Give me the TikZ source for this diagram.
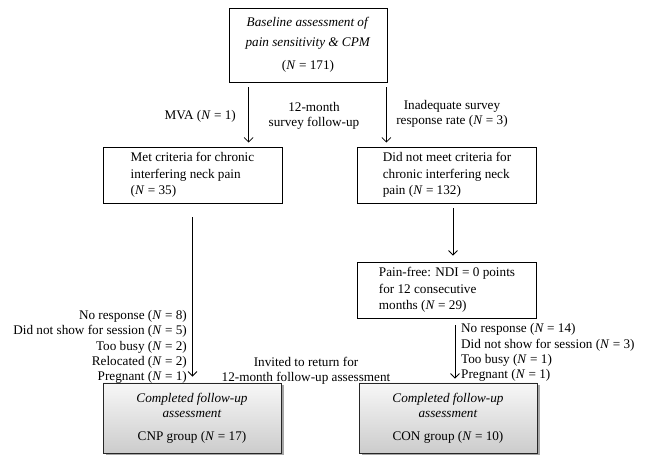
\documentclass[tikz,border=0pt]{standalone}
\usepackage{fontspec}
\setmainfont{Liberation Serif}
\usetikzlibrary{arrows.meta,shadows,calc}
\begin{document}
\begin{tikzpicture}[x=1pt,y=1pt,
  every node/.style={font=\fontsize{13.2}{15.3}\selectfont, inner sep=0pt},
  box/.style={draw, line width=0.8pt, minimum width=179pt, minimum height=56pt, align=left},
  topbox/.style={draw, line width=0.8pt, minimum width=158pt, minimum height=74pt, align=center},
  endbox/.style={draw=black!85, line width=0.8pt, minimum width=178pt, minimum height=70pt, align=center,
    top color=gray!6, bottom color=gray!40,
    drop shadow={shadow xshift=2.5pt, shadow yshift=-2.5pt, fill=gray!70, opacity=1}},
  arr/.style={line width=0.8pt, -{Straight Barb[length=4.5pt,width=9pt]}},
  lbl/.style={align=center}
]
\useasboundingbox (0,0) rectangle (646,463);
\fill[white] (0,0) rectangle (646,463);

\node[topbox] (top) at (308,418) {\textit{Baseline assessment of}\\[4.5pt]\textit{pain sensitivity \& CPM}\\[7.5pt](\textit{N} = 171)};
\node[box] (met) at (192.5,288) {Met criteria for chronic\\[1pt]interfering neck pain\\[1pt](\textit{N} = 35)};
\node[box] (did) at (447,288) {Did not meet criteria for\\[1pt]chronic interfering neck\\[1pt]pain (\textit{N} = 132)};
\node[box] (pain) at (447,173) {Pain-free: NDI = 0 points\\[1pt]for 12 consecutive\\[1pt]months (\textit{N} = 29)};
\node[endbox] (cnp) at (192,45) {\textit{Completed follow-up}\\\textit{assessment}\\[7.5pt]CNP group (\textit{N} = 17)};
\node[endbox] (con) at (448,45) {\textit{Completed follow-up}\\\textit{assessment}\\[7.5pt]CON group (\textit{N} = 10)};

\node[anchor=east] (mva) at (236,347) {MVA (\textit{N} = 1)};
\node[lbl] (fu) at (314,347) {12-month\\survey follow-up};
\node[lbl] (inad) at (452,349) {Inadequate survey\\response rate (\textit{N} = 3)};
\node[anchor=east, align=right] (lossL) at (187,116) {No response (\textit{N} = 8)\\Did not show for session (\textit{N} = 5)\\Too busy (\textit{N} = 2)\\Relocated (\textit{N} = 2)\\Pregnant (\textit{N} = 1)};
\node[anchor=west, align=left] (lossR) at (461,110.5) {No response (\textit{N} = 14)\\Did not show for session (\textit{N} = 3)\\Too busy (\textit{N} = 1)\\Pregnant (\textit{N} = 1)};
\node[lbl] (inv) at (306,92.5) {Invited to return for\\12-month follow-up assessment};

\draw[arr] ($(top.south west)+(20,-5)$) -- ($(top.south west |- met.north)+(20,4)$);
\draw[arr] ($(top.south east)+(-1,-5)$) -- ($(top.south east |- did.north)+(-1,4)$);
\draw[arr] ($(met.south)+(0,-14)$) -- ($(met.south |- cnp.north)+(0,6)$);
\draw[arr] ($(did.south)+(6,-5)$) -- ($(did.south |- pain.north)+(6,6)$);
\draw[arr] ($(pain.south)+(8,-7)$) -- ($(pain.south |- con.north)+(8,4)$);
\end{tikzpicture}
\end{document}
